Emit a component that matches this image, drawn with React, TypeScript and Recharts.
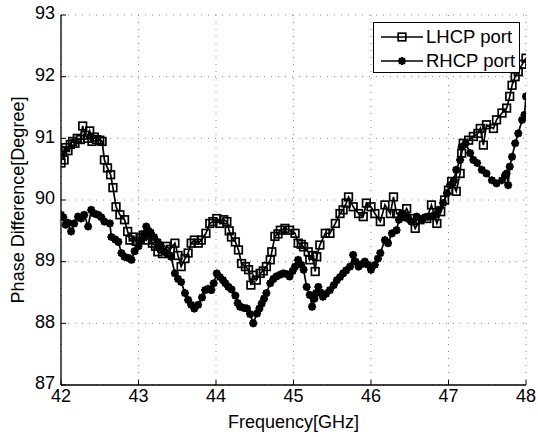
import React from 'react';
import { LineChart, Line, XAxis, YAxis, CartesianGrid } from 'recharts';

const lhcpFreq = [
  42.0, 42.02, 42.04, 42.06, 42.09, 42.12, 42.15, 42.18, 42.21, 42.25, 42.28, 42.31, 42.34, 42.37, 42.4, 42.43,
  42.46, 42.5, 42.53, 42.56, 42.6, 42.64, 42.67, 42.71, 42.76, 42.82, 42.86, 42.89, 42.93, 42.97, 43.02, 43.06,
  43.1, 43.14, 43.18, 43.22, 43.25, 43.31, 43.36, 43.41, 43.47, 43.51, 43.55, 43.6, 43.64, 43.68, 43.72, 43.77,
  43.81, 43.87, 43.92, 43.96, 44.01, 44.05, 44.1, 44.14, 44.17, 44.2, 44.25, 44.29, 44.33, 44.38, 44.42, 44.45,
  44.48, 44.52, 44.57, 44.61, 44.65, 44.7, 44.72, 44.76, 44.8, 44.83, 44.89, 44.95, 45.02, 45.06, 45.1, 45.13,
  45.19, 45.21, 45.25, 45.28, 45.3, 45.34, 45.41, 45.47, 45.54, 45.6, 45.64, 45.68, 45.71, 45.77, 45.84, 45.9,
  45.94, 46.0, 46.05, 46.12, 46.18, 46.25, 46.29, 46.33, 46.4, 46.46, 46.52, 46.57, 46.63, 46.72, 46.78, 46.85,
  46.9, 46.95, 47.0, 47.04, 47.1, 47.15, 47.17, 47.19, 47.26, 47.32, 47.38, 47.41, 47.45, 47.49, 47.58, 47.62,
  47.69, 47.75, 47.79, 47.82, 47.86, 47.9, 47.95, 48.0,
];
const lhcpPhase = [
  90.6, 90.8, 90.65, 90.85, 90.8, 90.9, 90.95, 90.92, 91.0, 90.98, 91.2, 91.05, 91.0, 91.12, 90.95, 91.02,
  90.98, 90.97, 90.95, 90.65, 90.52, 90.41, 90.2, 89.89, 89.76, 89.68, 89.49, 89.35, 89.4, 89.33, 89.38, 89.43,
  89.35, 89.45, 89.3, 89.25, 89.16, 89.13, 89.25, 89.2, 89.3, 89.1, 88.92, 89.05, 89.14, 89.3, 89.35, 89.3,
  89.35, 89.46, 89.62, 89.65, 89.7, 89.62, 89.68, 89.65, 89.5, 89.4, 89.32, 89.19, 88.97, 88.92, 88.87, 88.62,
  88.78, 88.7, 88.81, 88.85, 88.92, 89.03, 89.16, 89.41, 89.45, 89.51, 89.54, 89.51, 89.46, 89.3, 89.28, 89.24,
  89.16, 89.03, 89.1, 88.84, 89.08, 89.27, 89.46, 89.46, 89.62, 89.78, 89.84, 89.95, 90.05, 89.89, 89.78, 89.73,
  89.95, 89.89, 89.78, 89.65, 89.92, 89.78, 90.05, 89.78, 89.73, 89.86, 89.7, 89.54, 89.68, 89.7, 89.92, 89.62,
  89.81, 90.0, 90.16, 90.3, 90.14, 90.43, 90.76, 90.92, 90.97, 91.03, 91.08, 91.16, 90.89, 91.22, 91.16, 91.3,
  91.41, 91.49, 91.68, 91.86, 92.0, 92.08, 92.2, 92.3,
];

const rhcpFreq = [
  42.0, 42.03, 42.06, 42.09, 42.13, 42.17, 42.22, 42.26, 42.3, 42.35, 42.39, 42.43, 42.48, 42.52, 42.56, 42.63,
  42.65, 42.7, 42.74, 42.78, 42.82, 42.87, 42.91, 42.95, 43.0, 43.04, 43.07, 43.1, 43.13, 43.16, 43.2, 43.25,
  43.29, 43.33, 43.38, 43.42, 43.47, 43.51, 43.55, 43.6, 43.64, 43.68, 43.72, 43.77, 43.82, 43.86, 43.9, 43.94,
  43.97, 44.01, 44.05, 44.09, 44.12, 44.16, 44.2, 44.25, 44.28, 44.31, 44.36, 44.4, 44.44, 44.48, 44.53, 44.56,
  44.59, 44.62, 44.65, 44.7, 44.74, 44.78, 44.83, 44.87, 44.91, 44.95, 44.99, 45.02, 45.06, 45.1, 45.13, 45.17,
  45.21, 45.24, 45.27, 45.29, 45.32, 45.35, 45.38, 45.42, 45.47, 45.52, 45.56, 45.6, 45.64, 45.68, 45.73, 45.77,
  45.8, 45.84, 45.88, 45.92, 45.96, 46.0, 46.05, 46.09, 46.12, 46.18, 46.22, 46.27, 46.33, 46.36, 46.4, 46.44,
  46.48, 46.52, 46.59, 46.65, 46.7, 46.74, 46.79, 46.83, 46.87, 46.93, 46.98, 47.02, 47.07, 47.1, 47.15, 47.17,
  47.22, 47.28, 47.32, 47.37, 47.43, 47.49, 47.56, 47.62, 47.69, 47.73, 47.75, 47.77, 47.79, 47.82, 47.86, 47.9,
  47.95, 47.98, 48.0,
];
const rhcpPhase = [
  89.76, 89.72, 89.6, 89.63, 89.49, 89.62, 89.73, 89.7, 89.76, 89.57, 89.84, 89.78, 89.76, 89.72, 89.65, 89.62,
  89.4, 89.36, 89.32, 89.14, 89.08, 89.06, 89.03, 89.17, 89.25, 89.35, 89.45, 89.57, 89.5, 89.46, 89.4, 89.32,
  89.25, 89.16, 89.12, 89.08, 88.81, 88.72, 88.67, 88.49, 88.38, 88.3, 88.24, 88.3, 88.42, 88.54, 88.56, 88.54,
  88.65, 88.81, 88.75, 88.7, 88.65, 88.59, 88.55, 88.45, 88.33, 88.27, 88.25, 88.24, 88.15, 88.0, 88.16, 88.24,
  88.32, 88.4, 88.49, 88.65, 88.72, 88.76, 88.79, 88.81, 88.8, 88.76, 88.85, 88.92, 89.03, 88.95, 88.87, 88.59,
  88.46, 88.27, 88.4, 88.49, 88.59, 88.5, 88.43, 88.48, 88.54, 88.62, 88.7, 88.75, 88.81, 88.86, 88.92, 89.11,
  89.0, 88.92, 88.96, 89.0, 88.95, 88.87, 88.95, 89.05, 89.14, 89.35, 89.3, 89.46, 89.51, 89.68, 89.78, 89.73,
  89.7, 89.65, 89.73, 89.68, 89.72, 89.73, 89.74, 89.76, 89.84, 89.95, 90.11, 90.24, 90.32, 90.49, 90.65, 90.86,
  90.92, 90.76, 90.65, 90.6, 90.49, 90.43, 90.32, 90.27, 90.32, 90.4, 90.43, 90.24, 90.54, 90.7, 90.92, 91.08,
  91.3, 91.38, 91.68,
];

const freqTicks = [42, 43, 44, 45, 46, 47, 48];
const phaseTicks = [87, 88, 89, 90, 91, 92, 93];

const lhcpData = lhcpFreq.map((f, i) => ({ freq: f, phase: lhcpPhase[i] }));
const rhcpData = rhcpFreq.map((f, i) => ({ freq: f, phase: rhcpPhase[i] }));

const FONT = '"Liberation Sans", Arial, sans-serif';
const tickStyle = { fill: '#000', fontSize: 18, fontFamily: FONT };

// hollow square marker (LHCP)
const SquareDot = (props: any) => {
  const { cx, cy, index } = props;
  if (cx == null || cy == null) return <g key={index} />;
  return <rect key={index} x={cx - 3.8} y={cy - 3.8} width={7.6} height={7.6} fill="none" stroke="#000" strokeWidth={1.7} />;
};

// filled star marker (RHCP)
const StarDot = (props: any) => {
  const { cx, cy, index } = props;
  if (cx == null || cy == null) return <g key={index} />;
  const r = 4;
  const d = 2.9;
  return (
    <g key={index} stroke="#000" strokeWidth={2}>
      <circle cx={cx} cy={cy} r={2.6} fill="#000" />
      <line x1={cx - r} y1={cy} x2={cx + r} y2={cy} />
      <line x1={cx} y1={cy - r} x2={cx} y2={cy + r} />
      <line x1={cx - d} y1={cy - d} x2={cx + d} y2={cy + d} />
      <line x1={cx - d} y1={cy + d} x2={cx + d} y2={cy - d} />
    </g>
  );
};

const YLabel = (props: any) => {
  const vb = props.viewBox;
  const cx = vb.x + 18;
  const cy = vb.y + vb.height / 2;
  return (
    <text x={cx} y={cy} transform={`rotate(-90 ${cx} ${cy})`} textAnchor="middle" dominantBaseline="central"
      fill="#000" fontSize={18} fontFamily={FONT}>
      Phase Difference[Degree]
    </text>
  );
};

const LegendRow = ({ label, star }: { label: string; star?: boolean }) => (
  <div style={{ display: 'flex', alignItems: 'center', height: 24 }}>
    <svg width={44} height={14} style={{ marginLeft: 6 }}>
      <line x1={1} y1={7} x2={43} y2={7} stroke="#000" strokeWidth={1.6} />
      {star ? <StarDot cx={22} cy={7} index={0} /> : <SquareDot cx={22} cy={7} index={0} />}
    </svg>
    <span style={{ fontFamily: FONT, fontSize: 18.5, color: '#000', marginLeft: 2 }}>{label}</span>
  </div>
);

export default function App() {
  return (
    <div style={{ position: 'absolute', left: 0, top: 0, width: 538, height: 437, background: '#fff' }}>
      <LineChart width={538} height={437} margin={{ top: 15, right: 12, left: 0, bottom: 0 }}>
        <CartesianGrid stroke="#888" strokeDasharray="1 6" />
        <XAxis dataKey="freq" type="number" domain={[42, 48]} ticks={freqTicks} interval={0} allowDataOverflow
          height={52} tickSize={-5} tickMargin={9} tick={tickStyle}
          axisLine={{ stroke: '#000', strokeWidth: 1.3 }} tickLine={{ stroke: '#000' }}
          label={{ value: 'Frequency[GHz]', position: 'insideBottom', offset: 9, fill: '#000', fontSize: 18, fontFamily: FONT }} />
        <XAxis xAxisId="top" orientation="top" dataKey="freq" type="number" domain={[42, 48]} ticks={freqTicks}
          interval={0} height={0} tickSize={-5} tickFormatter={() => ''}
          axisLine={{ stroke: '#000', strokeWidth: 1.3 }} tickLine={{ stroke: '#000' }} />
        <YAxis type="number" domain={[87, 93]} ticks={phaseTicks} interval={0} allowDataOverflow width={61}
          tickSize={-5} tickMargin={11} tick={{ ...tickStyle, dy: -2 }}
          axisLine={{ stroke: '#000', strokeWidth: 1.3 }} tickLine={{ stroke: '#000' }} label={<YLabel />} />
        <YAxis yAxisId="right" orientation="right" type="number" domain={[87, 93]} ticks={phaseTicks} interval={0}
          width={0} tickSize={-5} tickFormatter={() => ''}
          axisLine={{ stroke: '#000', strokeWidth: 1.3 }} tickLine={{ stroke: '#000' }} />
        <Line data={lhcpData} dataKey="phase" name="LHCP port" stroke="#000" strokeWidth={1.7}
          dot={(p: any) => <SquareDot key={p.index} {...p} />} isAnimationActive={false} />
        <Line data={rhcpData} dataKey="phase" name="RHCP port" stroke="#000" strokeWidth={1.7}
          dot={(p: any) => <StarDot key={p.index} {...p} />} isAnimationActive={false} />
      </LineChart>
      <div style={{ position: 'absolute', left: 373, top: 22, width: 147, height: 51, boxSizing: 'border-box',
        border: '1px solid #000', background: '#fff', paddingTop: 2 }}>
        <LegendRow label="LHCP port" />
        <LegendRow label="RHCP port" star />
      </div>
    </div>
  );
}
